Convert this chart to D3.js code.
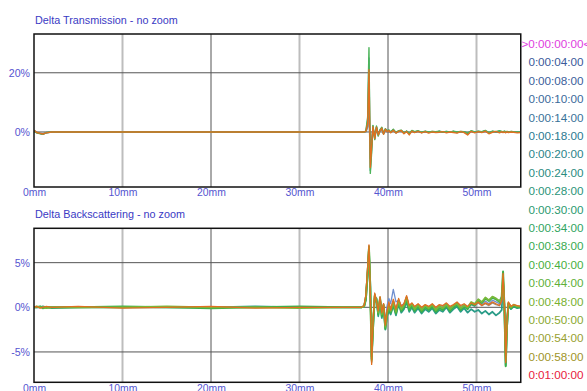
<!DOCTYPE html>
<html>
<head>
<meta charset="utf-8">
<script src="https://cdn.jsdelivr.net/npm/d3@7"></script>
<style>
  body { margin: 0; background: #fff; }
  svg { display: block; font-family: "Liberation Sans", Arial, sans-serif; }
</style>
</head>
<body>
<svg id="chart" width="587" height="391"></svg>
<script>
// positions along the tube, mm
const xPos = [0, 0.3, 0.7, 1.0, 1.4, 2.0, 5, 10, 15, 20, 25, 30, 35,
  37.0, 37.3, 37.5, 37.7, 37.85, 38.0, 38.15, 38.3, 38.5, 38.7, 38.9, 39.1, 39.3, 39.5, 39.7, 39.9,
  40.1, 40.3, 40.6, 40.9, 41.2, 41.5, 41.8, 42.1, 42.4, 42.7, 43.0, 43.4, 43.8, 44.2, 44.6,
  45.0, 45.4, 45.8, 46.2, 46.6, 47.0, 47.4, 47.8, 48.2, 48.6, 49.0, 49.4, 49.8, 50.2, 50.6,
  51.0, 51.4, 51.8, 52.2, 52.6, 52.85, 53.0, 53.15, 53.3, 53.45, 53.6, 53.9, 54.2, 54.6, 55.0];

const legendLabels = [">0:00:00:00<", "0:00:04:00", "0:00:08:00", "0:00:10:00", "0:00:14:00",
  "0:00:18:00", "0:00:20:00", "0:00:24:00", "0:00:28:00", "0:00:30:00", "0:00:34:00",
  "0:00:38:00", "0:00:40:00", "0:00:44:00", "0:00:48:00", "0:00:50:00", "0:00:54:00",
  "0:00:58:00", "0:01:00:00"];
const legendColors = ["#e040e0", "#3a5a9a", "#3a609a", "#3a6a9a", "#387298", "#2a7a90",
  "#2a8488", "#2a8c80", "#2a9478", "#2a9a70", "#30a460", "#38aa50", "#48b040", "#60b038",
  "#78b030", "#8aa830", "#98a030", "#a09428", "#e8203c"];

const xTicks = [0, 10, 20, 30, 40, 50];
const tTicks = [0, 20];
const bTicks = [-5, 0, 5];

// delta transmission (%)
const tBlue = [0.4,-0.2,-0.5,-0.6,-0.2,0,0,0,0,0,0,0,0,
  0,0,0.1,1.5,6,-6,-3,0.9,-1.2,1.0,-0.5,0.3,0.7,-0.3,0.5,0.1,
  0.3,0.0,0.4,-0.1,0.2, 0.3,-0.2,0.2,-0.3,0.2, 0.0,0.2,-0.1,0.1,0.0, 0.1,0.0,0.2,-0.1,0.1,
  0.0,0.1,-0.1,0.1,0.0, -0.3,0.1,0.0,0.1,0.0, 0.2,-0.2,0.1,0.0,0.1, 0.0,-0.1,0.1,0.0,0.1,
  0.0,0.1,0.0,-0.1,0.0];
const tGray = [0.5,-0.1,-0.4,-0.6,-0.2,0,0,0,0,0,0,0,0,
  0,0,0.1,2,9,-9,-4,1.2,-1.6,1.4,-0.6,0.5,0.9,-0.5,0.7,0.2,
  0.4,-0.1,0.5,-0.2,0.3, 0.4,-0.3,0.2,-0.4,0.2, 0.0,0.2,-0.2,0.1,-0.1, 0.1,0.0,0.1,-0.1,0.1,
  0.0,0.1,-0.2,0.1,0.0, -0.5,0.2,-0.1,0.1,0.0, 0.2,-0.3,0.1,0.0,0.1, 0.0,-0.1,0.1,0.0,0.1,
  -0.1,0.1,0.0,-0.1,0.0];
const tTeal = [0.5,-0.2,-0.5,-0.7,-0.3,0,0,0,0,0,0,0,0,
  0,0,0.2,4,25,-13,-6,2.0,-2.4,1.8,-1.2,0.6,1.4,-0.7,1.0,0.3,
  0.6,-0.1,0.8,-0.3,0.3, 0.5,-0.4,0.2,-0.6,0.4, 0.0,0.3,-0.2,0.2,-0.1, 0.1,0.0,0.2,-0.1,0.1,
  -0.1,0.2,-0.1,0.1,0.0, -0.5,0.3,-0.1,0.2,0.0, 0.4,-0.3,0.2,0.0,0.3, 0.1,-0.1,0.2,0.0,0.1,
  -0.1,0.1,0.0,-0.1,-0.1];
const tGreen = [0.3,-0.3,-0.6,-0.8,-0.2,0,0,0,0,0,0,0,0,
  0,0,0.3,5,28.5,-14,-7,2.2,-2.6,2.0,-1.4,0.8,1.6,-0.6,1.1,0.4,
  0.7,0.0,0.9,-0.2,0.4, 0.6,-0.3,0.3,-0.5,0.5, 0.1,0.4,-0.1,0.3,0.0, 0.2,0.1,0.3,0.0,0.2,
  -0.1,0.3,0.0,0.2,0.1, -0.4,0.4,0.0,0.3,0.1, 0.5,-0.2,0.3,0.1,0.4, 0.2,0.0,0.3,0.1,0.2,
  0.0,0.2,0.1,0.0,-0.1];
const tOrange = [0.6,-0.2,-0.5,-0.7,-0.3,0,0,0,0,0,0,0,0,
  0,0,0.2,3,21,-12,-5,1.8,-2.2,1.6,-1.0,0.4,1.3,-0.8,0.9,0.1,
  0.5,-0.3,0.6,-0.4,0.2, 0.5,-0.6,0.1,-1.0,0.3, -0.2,0.2,-0.3,0.1,-0.4, 0.0,-0.2,-0.1,0.1,-0.3,
  0.0,-0.2,-0.4,0.1,-0.2, -1.0,0.2,-0.3,0.1,-0.2, 0.3,-0.6,-0.1,0.2,-0.3, 0.1,-0.2,0.0,-0.3,0.1,
  -0.2,0.0,-0.1,-0.3,-0.2];

// delta backscattering (%)
const bBlue = [0,0,0.1,0,0,0,0,0,0,0,0,0,0,
  0,0.1,1.0,4.2,6.5,1.2,-4.5,-1.5,1.0,0.5,-0.4,0.8,-0.6,0.3,-1.6,0.2,
  1.0,0.4,2.0,0.6,0.8, 0.2,0.4,1.0,0.0,0.3, -0.2,0.2,-0.2,0.1,-0.1, 0.2,-0.2,0.1,-0.1,0.2,
  -0.2,0.1,0.3,-0.2,0.1, -0.1,0.3,0.1,0.6,0.3, 0.7,0.4,0.8,0.6,0.4, 0.6,2.8,0.2,-4.8,-1.2,
  0.3,0.0,0.2,0.0,0.0];
const bTeal = [0,0,0,0.1,0,-0.1,0,0,0,0,0.1,0,0,
  0,0.1,0.8,3.5,6.2,2.5,-5.5,-2.6,1.0,1.0,-1.0,0.8,-1.2,0.0,-2.5,-1.0,
  -0.4,-0.8,0.2,-0.9,0.4, -0.6,-0.2,0.6,-0.5,0.0, -0.6,-0.1,-0.7,-0.2,-0.5, -0.1,-0.7,-0.3,-0.5,0.0,
  -0.6,-0.2,0.1,-0.5,-0.1, -0.6,-0.2,-0.5,-0.3,-0.7, -0.4,-0.8,-0.5,-0.9,-0.6, -0.3,3.0,0.0,-6.5,-2.2,
  0.2,-0.2,0.1,-0.1,0.0];
const bGray = [0,0,0,0,0,0,0,0,0,0,0,0,0,
  0,0.2,1.3,4.4,6.9,1.6,-6.2,-1.9,1.5,0.6,-0.5,1.1,-0.7,0.4,-2.1,-0.5,
  0.4,-0.2,0.7,-0.3,0.8, 0.0,0.3,1.2,0.1,0.4, 0.0,0.3,-0.1,0.2,0.0, 0.3,-0.1,0.2,0.1,0.4,
  0.0,0.2,0.5,0.1,0.3, 0.0,0.4,0.2,0.5,0.2, 0.4,0.2,0.5,0.3,0.2, 0.6,3.2,0.4,-5.8,-1.4,
  0.5,0.1,0.2,0.1,0.1];
const bGreen = [0,0,0.1,-0.1,0,0,0,0.1,0,-0.1,0,0.1,0,
  0,0.1,1.0,3.8,6.6,2.2,-5.8,-2.4,1.2,0.9,-0.8,1.0,-1.0,0.2,-2.4,-0.8,
  -0.2,-0.6,0.4,-0.7,0.6, -0.4,0.0,0.9,-0.3,0.2, -0.4,0.1,-0.5,0.0,-0.3, 0.1,-0.5,-0.1,-0.3,0.2,
  -0.4,0.0,0.3,-0.3,0.1, -0.2,0.4,0.2,0.8,0.5, 1.0,0.7,1.1,0.9,0.6, 1.2,4.0,0.2,-6.6,-2.0,
  0.4,-0.1,0.2,0.0,0.0];
const bLime = [0,0.1,0,0,-0.1,0,0,0,0.1,0,0,-0.1,0,
  0,0.1,1.2,4.0,6.8,1.8,-6.0,-2.0,1.4,0.7,-0.6,1.1,-0.8,0.3,-2.2,-0.6,
  0.2,-0.4,0.6,-0.5,0.8, -0.2,0.2,1.1,0.0,0.4, -0.2,0.3,-0.3,0.2,-0.1, 0.3,-0.3,0.1,-0.1,0.3,
  -0.2,0.2,0.4,-0.1,0.2, 0.0,0.6,0.4,0.9,0.6, 1.1,0.8,1.2,1.0,0.7, 1.0,3.6,0.3,-6.0,-1.8,
  0.5,0.0,0.3,0.1,0.1];
const bOrange = [0,0.1,-0.1,0,0.1,0,0.1,-0.1,0,0.1,-0.1,0,0,
  0,0.2,1.4,4.5,7.0,1.5,-6.4,-1.8,1.6,0.6,-0.4,1.2,-0.6,0.4,-2.0,-0.4,
  0.6,-0.3,0.9,-0.2,1.0, 0.1,0.4,1.3,0.2,0.5, 0.1,0.4,0.0,0.3,0.1, 0.4,0.0,0.3,0.2,0.5,
  0.1,0.3,0.6,0.2,0.4, 0.1,0.5,0.3,0.6,0.2, 0.5,0.3,0.6,0.4,0.2, 0.8,3.8,0.5,-6.2,-1.5,
  0.6,0.1,0.3,0.2,0.1];

const tSeries = [
  { values: tBlue, color: "#6f8fcf", w: 1.4 },
  { values: tGray, color: "#9c8c78", w: 1.6 },
  { values: tTeal, color: "#35a08e", w: 1.4 },
  { values: tGreen, color: "#4cb45a", w: 1.4 },
  { values: tOrange, color: "#e07020", w: 1.4 }
];
const bSeries = [
  { values: bBlue, color: "#6f8fcf", w: 1.3 },
  { values: bTeal, color: "#2a9c88", w: 1.8 },
  { values: bGray, color: "#9c8c78", w: 1.4 },
  { values: bGreen, color: "#3cb04a", w: 2 },
  { values: bLime, color: "#78b83a", w: 1.8 },
  { values: bOrange, color: "#e07020", w: 1.3 }
];

const svg = d3.select('#chart');
const x = d3.scaleLinear().domain([0, 55]).range([34, 520.75]);

function drawPanel(opts) {
  const y = d3.scaleLinear().domain(opts.yDomain).range([opts.bottom, opts.top]);
  const g = svg.append('g');

  g.append('text')
    .attr('x', 35).attr('y', opts.top - 10)
    .attr('fill', '#3a3ac4').attr('font-size', 10.8)
    .text(opts.title);

  // vertical grid, odd decades light and thick
  g.selectAll('.vg').data(xTicks.filter(d => d > 0)).enter().append('line')
    .attr('x1', d => x(d)).attr('x2', d => x(d))
    .attr('y1', opts.top).attr('y2', opts.bottom)
    .attr('stroke', d => (d / 10) % 2 ? '#bdbdbd' : '#555')
    .attr('stroke-width', d => (d / 10) % 2 ? 2 : 1);

  // horizontal grid
  g.selectAll('.hg').data(opts.ticks).enter().append('line')
    .attr('x1', x(0)).attr('x2', x(55))
    .attr('y1', d => y(d)).attr('y2', d => y(d))
    .attr('stroke', '#555').attr('stroke-width', 1);

  const clipId = 'clip' + Math.round(opts.top);
  svg.append('clipPath').attr('id', clipId).append('rect')
    .attr('x', x(0)).attr('y', opts.top)
    .attr('width', x(55) - x(0)).attr('height', opts.bottom - opts.top);

  const line = d3.line()
    .x((d, i) => x(xPos[i]))
    .y(d => y(d));

  g.append('g').attr('clip-path', `url(#${clipId})`)
    .selectAll('path').data(opts.series).enter().append('path')
    .attr('d', d => line(d.values))
    .attr('fill', 'none')
    .attr('stroke', d => d.color)
    .attr('stroke-width', d => d.w)
    .attr('stroke-linejoin', 'round');

  g.append('rect')
    .attr('x', x(0)).attr('y', opts.top)
    .attr('width', x(55) - x(0)).attr('height', opts.bottom - opts.top)
    .attr('fill', 'none').attr('stroke', '#111').attr('stroke-width', 1.5);

  const yAxis = d3.axisLeft(y).tickValues(opts.ticks)
    .tickFormat(d => d + '%').tickSize(0).tickPadding(4);
  const ya = g.append('g').attr('transform', `translate(${x(0)},0)`).call(yAxis);
  ya.select('.domain').remove();
  ya.selectAll('text').attr('fill', '#5555d0').attr('font-size', 10.6)
    .attr('font-family', '"Liberation Sans", Arial, sans-serif');

  const xAxis = d3.axisBottom(x).tickValues(xTicks)
    .tickFormat(d => d + 'mm').tickSize(0).tickPadding(2);
  const xa = g.append('g').attr('transform', `translate(0,${opts.bottom})`).call(xAxis);
  xa.select('.domain').remove();
  xa.selectAll('text').attr('fill', '#5555d0').attr('font-size', 10.4)
    .attr('font-family', '"Liberation Sans", Arial, sans-serif');
}

drawPanel({ title: 'Delta Transmission - no zoom', top: 34, bottom: 187,
  yDomain: [-18.6, 33.1], ticks: tTicks, series: tSeries });
drawPanel({ title: 'Delta Backscattering - no zoom', top: 228.3, bottom: 382.3,
  yDomain: [-8.4, 8.85], ticks: bTicks, series: bSeries });

// legend
svg.append('g').selectAll('text').data(legendLabels).enter().append('text')
  .attr('x', 556)
  .attr('y', (d, i) => 48 + i * 18.4)
  .attr('text-anchor', 'middle')
  .attr('font-size', 11.7)
  .attr('fill', (d, i) => legendColors[i])
  .text(d => d);
</script>
</body>
</html>
